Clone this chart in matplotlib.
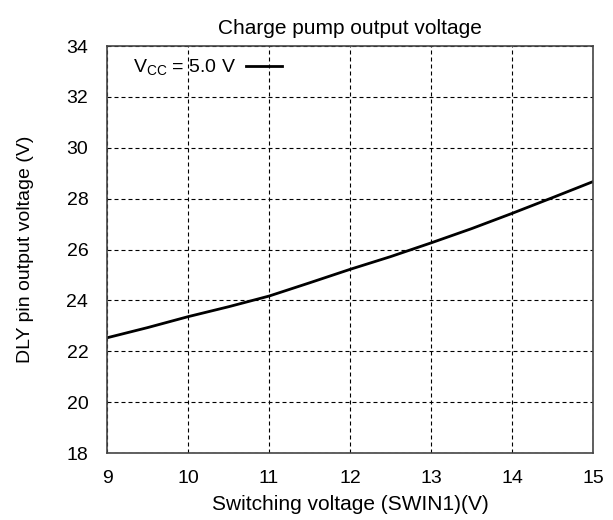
import matplotlib
matplotlib.use('Agg')
import matplotlib.pyplot as plt

plt.rcParams['font.family'] = ['Liberation Sans', 'DejaVu Sans']
plt.rcParams['mathtext.fontset'] = 'custom'
plt.rcParams['mathtext.rm'] = 'Liberation Sans'

# Curve
swin_v = [9.0, 9.5, 10.0, 10.5, 11.0, 11.5, 12.0, 12.5, 13.0, 13.5, 14.0, 14.5, 15.0]
dly_v = [22.53, 22.93, 23.36, 23.75, 24.17, 24.69, 25.22, 25.72, 26.26, 26.82, 27.42, 28.04, 28.67]
x_ticks = [9, 10, 11, 12, 13, 14, 15]
y_ticks = [18, 20, 22, 24, 26, 28, 30, 32, 34]

fig = plt.figure(figsize=(6.13, 5.2), dpi=100)
ax = fig.add_axes([0.1746, 0.1288, 0.7928, 0.7827])

ax.plot(swin_v, dly_v, color='black', lw=2.0,
        label=r'V$_{\mathregular{CC}}$ = 5.0 V')

ax.set_xlim(9, 15)
ax.set_ylim(18, 34)
ax.set_xticks(x_ticks)
ax.set_yticks(y_ticks)
ax.tick_params(direction='in', length=0, labelsize=14)
ax.tick_params(axis='x', pad=12)
ax.tick_params(axis='y', pad=13.5)
ax.grid(True, color='black', linestyle=(0, (3.6, 2.7)), linewidth=0.8)
for s in ax.spines.values():
    s.set_color('#444444')
    s.set_linewidth(1.2)

ax.set_title('Charge pump output voltage', fontsize=15, pad=9)
ax.set_xlabel('Switching voltage (SWIN1)(V)', fontsize=15, labelpad=6)
ax.set_ylabel('DLY pin output voltage (V)', fontsize=14, labelpad=23)

ax.legend(loc='center left', bbox_to_anchor=(0.037, 0.946), frameon=False,
          markerfirst=False, fontsize=14, handlelength=1.85,
          handletextpad=0.5, borderaxespad=0.0)

fig.savefig('out.png', dpi=100)
